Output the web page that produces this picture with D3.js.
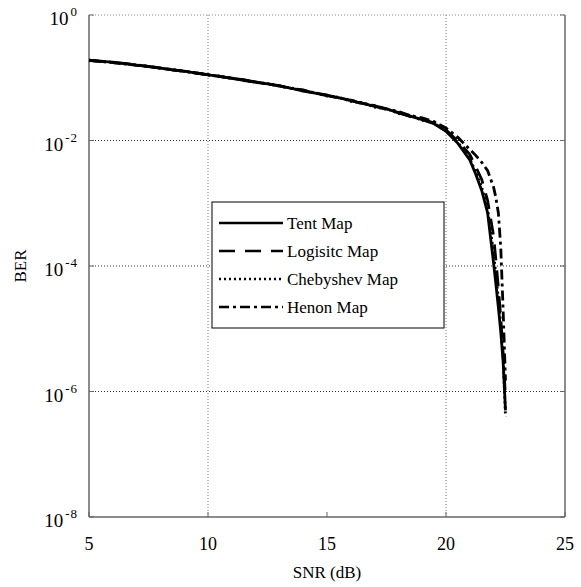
<!DOCTYPE html>
<html>
<head>
<meta charset="utf-8">
<script src="https://cdn.jsdelivr.net/npm/d3@7"></script>
<style>
  body { margin: 0; background: #fff; }
  svg text { font-family: "Liberation Serif", "Times New Roman", serif; }
</style>
</head>
<body>
<div class="canvas"></div>
<script>
// data
const snr = [5, 5.5, 6, 6.5, 7, 7.5, 8, 8.5, 9, 9.5, 10, 10.5, 11, 11.5, 12, 12.5, 13, 13.5, 14, 14.5,
  15, 15.5, 16, 16.5, 17, 17.5, 18, 18.5, 19, 19.5, 20,
  20.5, 21, 21.25, 21.5, 21.75, 22, 22.1, 22.2, 22.3, 22.4, 22.5]

const tentBer = [0.190, 0.183, 0.178, 0.168, 0.159, 0.151, 0.142, 0.133, 0.127, 0.118, 0.111, 0.105, 0.098, 0.093, 0.085, 0.080, 0.074, 0.068, 0.061, 0.057,
  0.052, 0.048, 0.043, 0.039, 0.035, 0.032, 0.0275, 0.0245, 0.0215, 0.0185, 0.0140,
  0.0090, 0.0049, 0.0029, 0.0016, 7.0e-4, 1.1e-4, 5.0e-5, 2.2e-5, 9e-6, 3e-6, 5e-7]
const logisticBer = [0.188, 0.184, 0.173, 0.169, 0.161, 0.150, 0.144, 0.134, 0.128, 0.119, 0.112, 0.104, 0.099, 0.090, 0.086, 0.079, 0.075, 0.067, 0.064, 0.056,
  0.053, 0.047, 0.044, 0.038, 0.036, 0.031, 0.028, 0.024, 0.022, 0.019, 0.0148,
  0.0098, 0.0060, 0.0038, 0.0024, 0.0011, 3.0e-4, 1.2e-4, 4.5e-5, 1.5e-5, 4e-6, 8e-7]
const chebyshevBer = [0.191, 0.181, 0.176, 0.166, 0.160, 0.152, 0.141, 0.136, 0.126, 0.120, 0.110, 0.106, 0.097, 0.092, 0.084, 0.081, 0.073, 0.069, 0.062, 0.058,
  0.051, 0.049, 0.042, 0.040, 0.034, 0.032, 0.027, 0.025, 0.021, 0.0188, 0.0143,
  0.0093, 0.0052, 0.0031, 0.0018, 8.0e-4, 1.6e-4, 7e-5, 3e-5, 1.2e-5, 3.5e-6, 4e-7]
const henonBer = [0.189, 0.182, 0.174, 0.167, 0.158, 0.152, 0.143, 0.134, 0.127, 0.119, 0.112, 0.105, 0.098, 0.091, 0.085, 0.080, 0.074, 0.068, 0.063, 0.057,
  0.053, 0.048, 0.044, 0.039, 0.036, 0.032, 0.029, 0.025, 0.023, 0.020, 0.0158,
  0.0112, 0.0072, 0.0058, 0.0045, 0.0033, 0.0018, 0.0012, 7e-4, 2e-4, 2e-5, 1.5e-6]

const seriesNames = ['Tent Map', 'Logisitc Map', 'Chebyshev Map', 'Henon Map']
const xTicks = [5, 10, 15, 20, 25]
const yExponents = [0, -2, -4, -6, -8]

const series = [
  { name: seriesNames[0], values: tentBer, dash: null },
  { name: seriesNames[1], values: logisticBer, dash: '16,10' },
  { name: seriesNames[2], values: chebyshevBer, dash: '2,3' },
  { name: seriesNames[3], values: henonBer, dash: '10,4,3,4' }
]

const svg = d3.select('.canvas')
  .append('svg')
  .attr('width', 581)
  .attr('height', 587)

const margin = { top: 15, right: 16, bottom: 70, left: 89 }
const graphWidth = 581 - margin.left - margin.right
const graphHeight = 587 - margin.top - margin.bottom

const graph = svg.append('g')
  .attr('transform', `translate(${margin.left}, ${margin.top})`)

// scales
const x = d3.scaleLinear().domain([5, 25]).range([0, graphWidth])
const y = d3.scaleLog().domain([1e-8, 1]).range([graphHeight, 0])

// grid
graph.selectAll('.vgrid')
  .data([10, 20])
  .enter().append('line')
  .attr('x1', d => x(d)).attr('x2', d => x(d))
  .attr('y1', 0).attr('y2', graphHeight)
  .attr('stroke', '#777').attr('stroke-dasharray', '1,2')

graph.selectAll('.hgrid')
  .data([0, -2, -4, -6])
  .enter().append('line')
  .attr('x1', 0).attr('x2', graphWidth)
  .attr('y1', d => y(Math.pow(10, d))).attr('y2', d => y(Math.pow(10, d)))
  .attr('stroke', d => d === 0 ? '#888' : '#333').attr('stroke-dasharray', '1,2')

// axes lines
const axisColor = '#666'
graph.append('line')
  .attr('x1', 0).attr('x2', 0).attr('y1', 0).attr('y2', graphHeight)
  .attr('stroke', axisColor).attr('stroke-width', 1.5)
graph.append('line')
  .attr('x1', 0).attr('x2', graphWidth).attr('y1', graphHeight).attr('y2', graphHeight)
  .attr('stroke', axisColor).attr('stroke-width', 1.5)
graph.append('line')
  .attr('x1', graphWidth).attr('x2', graphWidth).attr('y1', 0).attr('y2', graphHeight)
  .attr('stroke', axisColor).attr('stroke-width', 1.5)

// ticks (inward)
graph.selectAll('.xtick')
  .data(xTicks)
  .enter().append('line')
  .attr('x1', d => x(d)).attr('x2', d => x(d))
  .attr('y1', graphHeight).attr('y2', graphHeight - 5)
  .attr('stroke', axisColor)
graph.selectAll('.ytickl')
  .data(yExponents)
  .enter().append('line')
  .attr('x1', 0).attr('x2', 5)
  .attr('y1', d => y(Math.pow(10, d))).attr('y2', d => y(Math.pow(10, d)))
  .attr('stroke', axisColor)
graph.selectAll('.ytickr')
  .data(yExponents)
  .enter().append('line')
  .attr('x1', graphWidth).attr('x2', graphWidth - 5)
  .attr('y1', d => y(Math.pow(10, d))).attr('y2', d => y(Math.pow(10, d)))
  .attr('stroke', axisColor)

// tick labels
graph.selectAll('.xlabel')
  .data(xTicks)
  .enter().append('text')
  .attr('x', d => x(d))
  .attr('y', graphHeight + 33)
  .attr('text-anchor', 'middle')
  .attr('font-size', 18)
  .text(d => d)

const yLabels = graph.selectAll('.ylabel')
  .data(yExponents)
  .enter().append('text')
  .attr('x', -11)
  .attr('y', d => y(Math.pow(10, d)) + 10)
  .attr('text-anchor', 'end')
  .attr('font-size', 19)
yLabels.append('tspan').text('10')
yLabels.append('tspan')
  .attr('dx', 2)
  .attr('dy', -9)
  .attr('font-size', 13)
  .attr('letter-spacing', 1)
  .text(d => d)

// axis titles
svg.append('text')
  .attr('x', margin.left + graphWidth / 2)
  .attr('y', 578)
  .attr('text-anchor', 'middle')
  .attr('font-size', 17)
  .text('SNR (dB)')
svg.append('text')
  .attr('transform', `translate(26, ${margin.top + graphHeight / 2}) rotate(-90)`)
  .attr('text-anchor', 'middle')
  .attr('font-size', 17)
  .text('BER')

// curves
const line = d3.line()
  .x((d, i) => x(snr[i]))
  .y(d => y(d))

graph.selectAll('.curve')
  .data(series)
  .enter().append('path')
  .attr('d', d => line(d.values))
  .attr('fill', 'none')
  .attr('stroke', '#000')
  .attr('stroke-width', 2.8)
  .attr('stroke-dasharray', d => d.dash)

// legend
const legend = svg.append('g').attr('transform', 'translate(212, 202)')
legend.append('rect')
  .attr('width', 232).attr('height', 126)
  .attr('fill', '#fff').attr('stroke', '#000').attr('stroke-width', 1)

const rows = legend.selectAll('.row')
  .data(series)
  .enter().append('g')
  .attr('transform', (d, i) => `translate(0, ${21 + i * 28})`)
rows.append('line')
  .attr('x1', 7).attr('x2', 71)
  .attr('stroke', '#000').attr('stroke-width', 2.6)
  .attr('stroke-dasharray', d => d.dash)
rows.append('text')
  .attr('x', 75)
  .attr('y', 6)
  .attr('font-size', 17)
  .text(d => d.name)
</script>
</body>
</html>
